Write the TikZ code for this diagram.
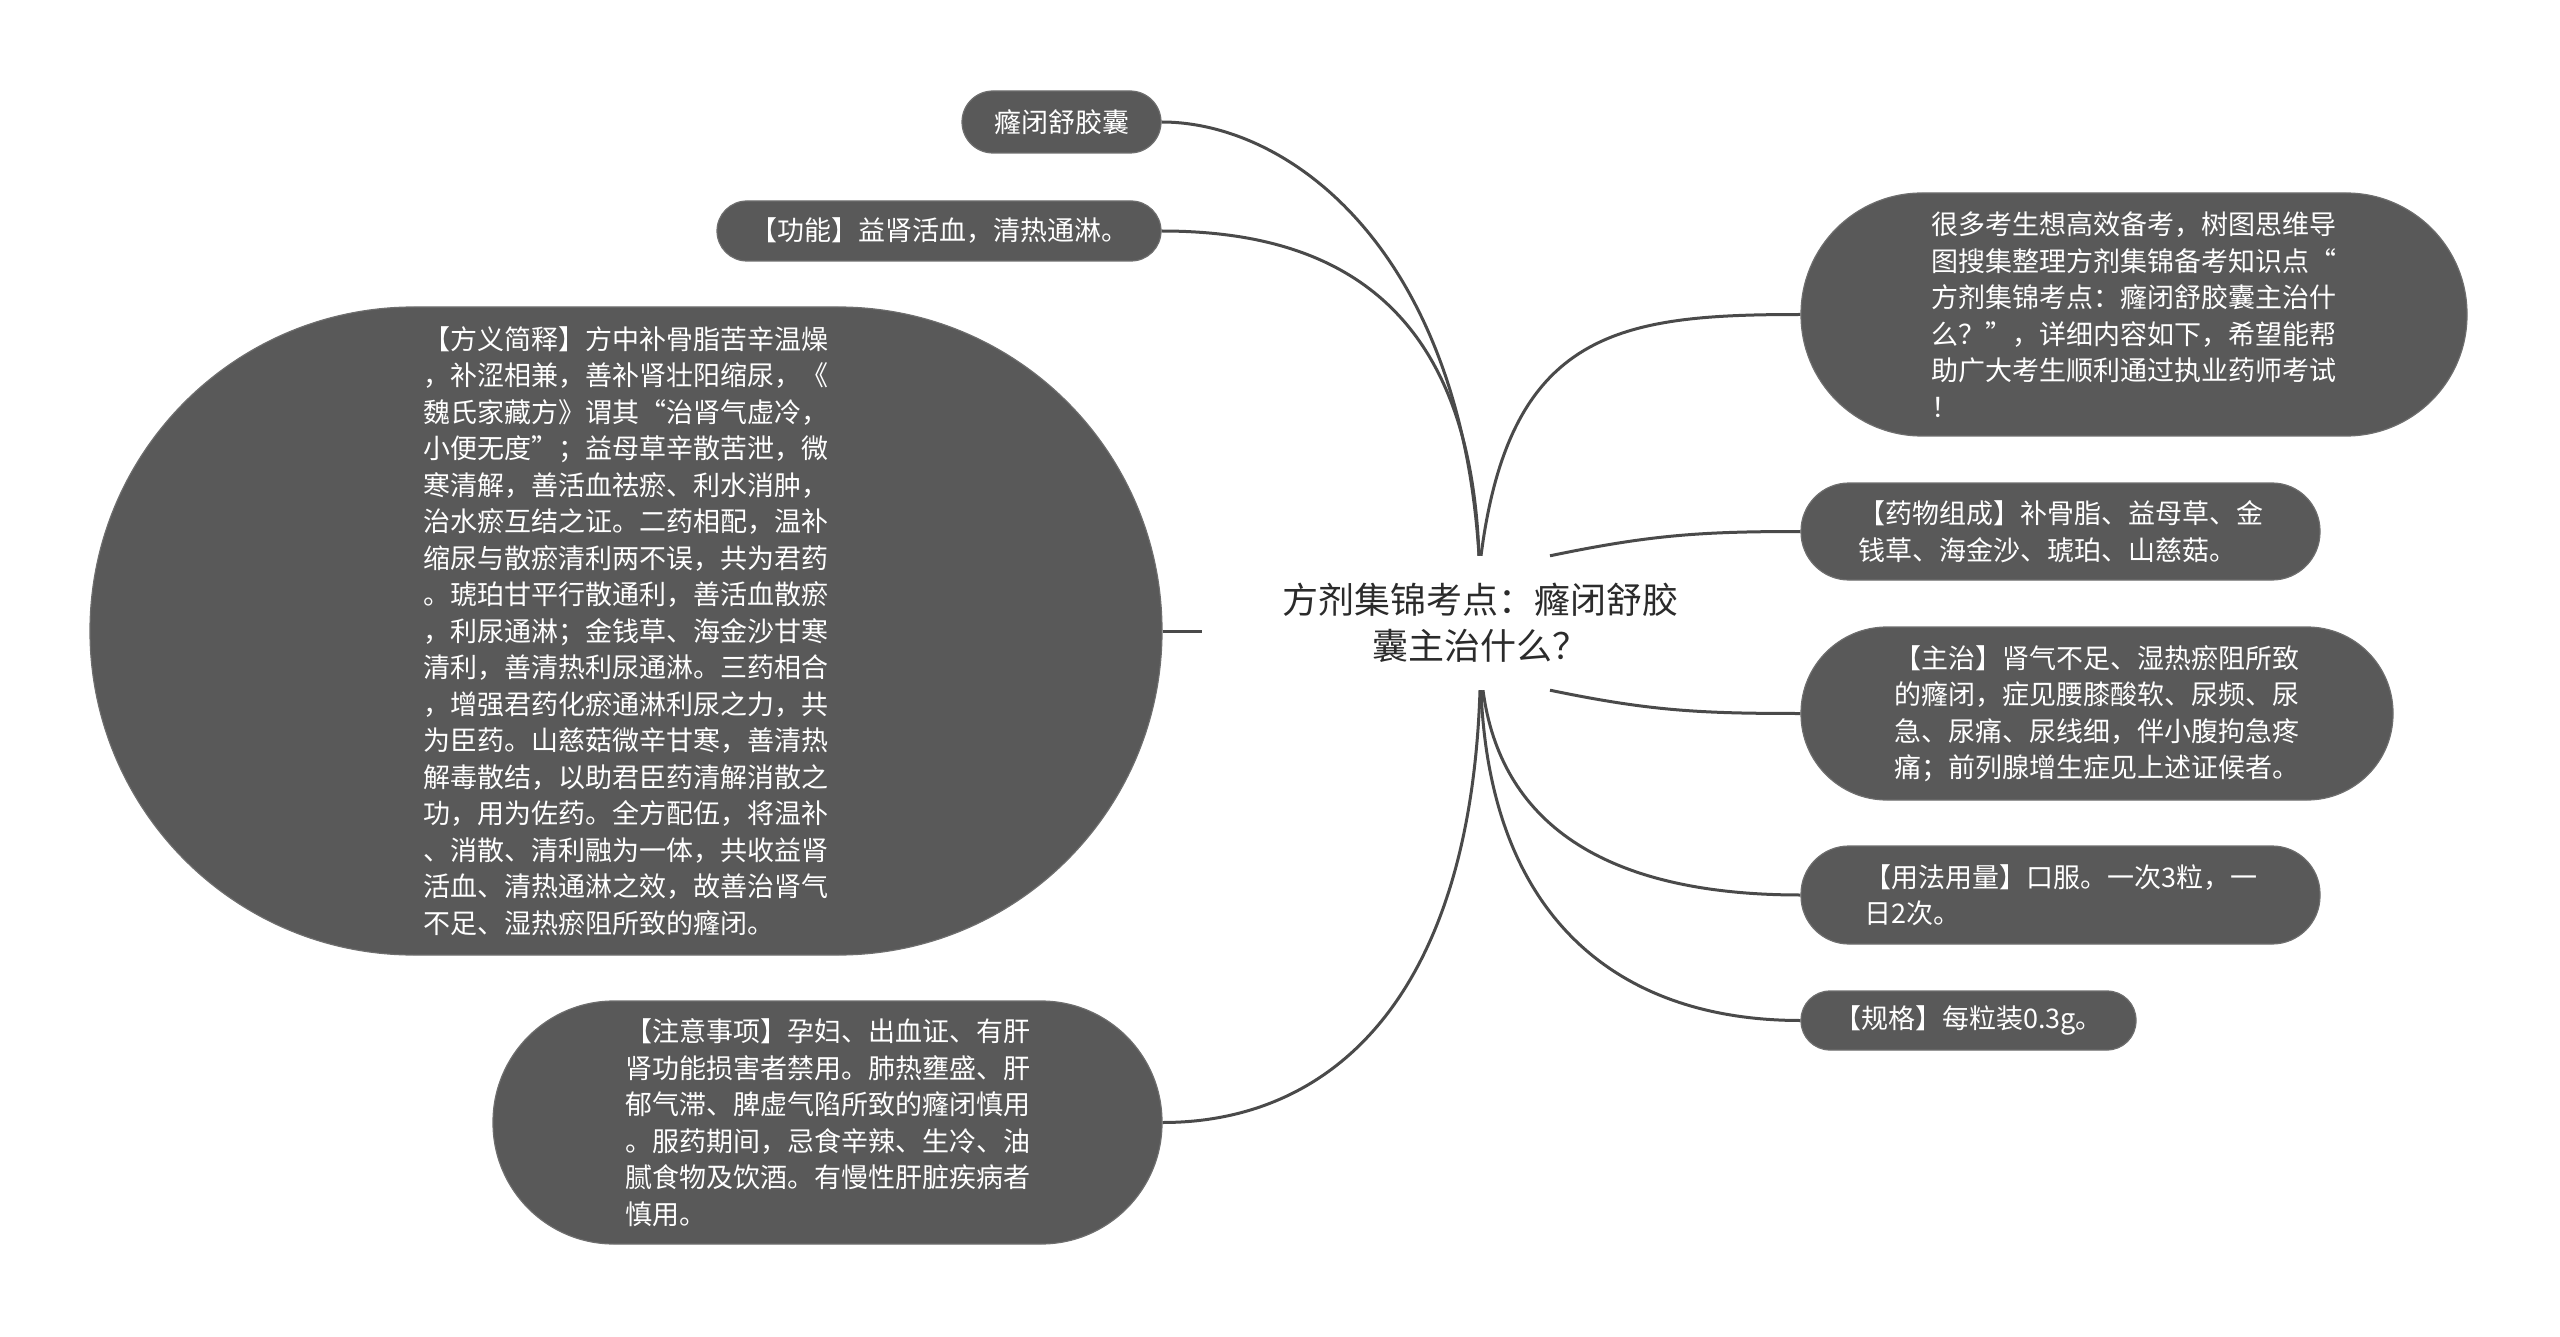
\documentclass[tikz,border=0pt]{standalone}
\usepackage{fontspec}
\setmainfont{Noto Sans CJK SC}
\usetikzlibrary{calc}
\definecolor{nodefill}{HTML}{595959}
\definecolor{nodeedge}{HTML}{6E6E6E}
\definecolor{linkcol}{HTML}{4A4A4A}
\definecolor{titlecol}{HTML}{2B2B2B}
\begin{document}
\begin{tikzpicture}[x=1pt,y=-1pt,
  box/.style={rectangle, rounded corners=#1, fill=nodefill, draw=nodeedge, line width=1.2pt,
    text=white, font=\fontsize{27}{36.5}\selectfont, align=left, inner sep=0pt},
  centre/.style={rectangle, inner sep=0pt, text=titlecol, font=\fontsize{36}{46}\selectfont,
    align=center, minimum width=556pt, minimum height=134pt},
  link/.style={draw=linkcol, line width=3pt}]
\useasboundingbox (0,0) rectangle (2560,1337);

\node[centre] (c) at (1480,623) {方剂集锦考点：癃闭舒胶\\囊主治什么？};

% left side
\node[box=31, minimum width=199pt, minimum height=62pt] (n1) at (1061.5,122) {癃闭舒胶囊};
\node[box=30, minimum width=444pt, minimum height=60pt] (n2) at (939,231) {【功能】益肾活血，清热通淋。};
\node[box=324, minimum width=1072pt, minimum height=648pt] (n3) at (626,631) {【方义简释】方中补骨脂苦辛温燥\\
，补涩相兼，善补肾壮阳缩尿，《\\
魏氏家藏方》谓其“治肾气虚冷，\\
小便无度”；益母草辛散苦泄，微\\
寒清解，善活血祛瘀、利水消肿，\\
治水瘀互结之证。二药相配，温补\\
缩尿与散瘀清利两不误，共为君药\\
。琥珀甘平行散通利，善活血散瘀\\
，利尿通淋；金钱草、海金沙甘寒\\
清利，善清热利尿通淋。三药相合\\
，增强君药化瘀通淋利尿之力，共\\
为臣药。山慈菇微辛甘寒，善清热\\
解毒散结，以助君臣药清解消散之\\
功，用为佐药。全方配伍，将温补\\
、消散、清利融为一体，共收益肾\\
活血、清热通淋之效，故善治肾气\\
不足、湿热瘀阻所致的癃闭。};
\node[box=121, minimum width=669pt, minimum height=243pt] (n4) at (827.5,1122.5) {【注意事项】孕妇、出血证、有肝\\
肾功能损害者禁用。肺热壅盛、肝\\
郁气滞、脾虚气陷所致的癃闭慎用\\
。服药期间，忌食辛辣、生冷、油\\
腻食物及饮酒。有慢性肝脏疾病者\\
慎用。};

% right side
\node[box=121, minimum width=666pt, minimum height=243pt] (r1) at (2134,314.5) {很多考生想高效备考，树图思维导\\
图搜集整理方剂集锦备考知识点“\\
方剂集锦考点：癃闭舒胶囊主治什\\
么？”，详细内容如下，希望能帮\\
助广大考生顺利通过执业药师考试\\
！};
\node[box=48, minimum width=519pt, minimum height=97pt] (r2) at (2060.5,531.5) {【药物组成】补骨脂、益母草、金\\
钱草、海金沙、琥珀、山慈菇。};
\node[box=86, minimum width=592pt, minimum height=173pt] (r3) at (2097,713.5) {【主治】肾气不足、湿热瘀阻所致\\
的癃闭，症见腰膝酸软、尿频、尿\\
急、尿痛、尿线细，伴小腹拘急疼\\
痛；前列腺增生症见上述证候者。};
\node[box=48, minimum width=519pt, minimum height=98pt] (r4) at (2060.5,895) {【用法用量】口服。一次3粒，一\\
日2次。};
\node[box=29, minimum width=335pt, minimum height=59pt] (r5) at (1968.5,1020.5) {【规格】每粒装0.3g。};

% connectors
\coordinate (ct) at ($(c.north)+(-1,0)$);
\coordinate (ctr) at ($(c.north)+(70,0)$);
\coordinate (cb) at ($(c.south)+(0,0)$);
\coordinate (cbr) at ($(c.south)+(70,0)$);

\draw[link] (ct) .. controls (1460,250) and (1290,122) .. (n1.east);
\draw[link] (ct) .. controls (1470,300) and (1330,231) .. (n2.east);
\draw[link] (n3.east) -- (n3.east -| c.west);
\draw[link] (cb) .. controls (1470,1000) and (1330,1122.5) .. (n4.east);

\draw[link] ($(ct)+(2,0)$) .. controls (1510,330) and (1620,314.5) .. (r1.west);
\draw[link] (ctr) .. controls (1650,535) and (1700,531.5) .. (r2.west);
\draw[link] (cbr) .. controls (1650,711) and (1700,713.5) .. (r3.west);
\draw[link] ($(cb)+(3,0)$) .. controls (1500,820) and (1600,895) .. (r4.west);
\draw[link] ($(cb)+(1,0)$) .. controls (1490,920) and (1620,1020.5) .. (r5.west);
\end{tikzpicture}
\end{document}
